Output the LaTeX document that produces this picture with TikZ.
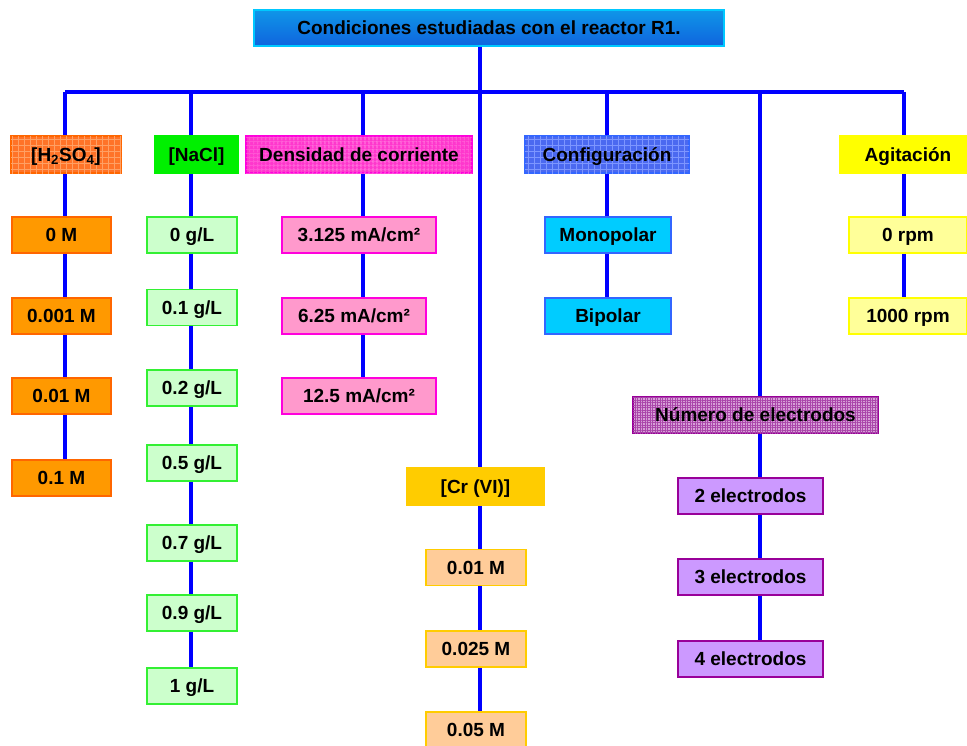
\documentclass[tikz,border=0pt]{standalone}
\usepackage{fontspec}
\setmainfont{Liberation Sans}
\usetikzlibrary{backgrounds,patterns.meta}

\definecolor{linkblue}{RGB}{0,0,255}
\definecolor{titletop}{RGB}{15,150,232}
\definecolor{titlemid}{RGB}{40,225,160}
\definecolor{titlebot}{RGB}{15,100,222}
\definecolor{titleedge}{RGB}{0,200,255}
\definecolor{acidfill}{RGB}{255,115,40}
\definecolor{acidgrid}{RGB}{255,160,100}
\definecolor{acidedge}{RGB}{255,102,0}
\definecolor{acidval}{RGB}{255,153,0}
\definecolor{saltfill}{RGB}{0,240,0}
\definecolor{saltval}{RGB}{204,255,204}
\definecolor{saltedge}{RGB}{51,240,51}
\definecolor{densfill}{RGB}{255,55,205}
\definecolor{densgrid}{RGB}{255,95,215}
\definecolor{densval}{RGB}{255,153,204}
\definecolor{densedge}{RGB}{255,0,220}
\definecolor{confill}{RGB}{75,105,240}
\definecolor{congrid}{RGB}{125,150,255}
\definecolor{conval}{RGB}{0,204,255}
\definecolor{conedge}{RGB}{51,102,255}
\definecolor{agifill}{RGB}{255,255,0}
\definecolor{agival}{RGB}{255,255,153}
\definecolor{agiedge}{RGB}{255,255,0}
\definecolor{crfill}{RGB}{255,204,0}
\definecolor{crval}{RGB}{255,204,153}
\definecolor{electfill}{RGB}{215,160,215}
\definecolor{electgrid}{RGB}{170,70,170}
\definecolor{electval}{RGB}{204,153,255}
\definecolor{electedge}{RGB}{153,0,153}

\begin{document}
\begin{tikzpicture}[x=1pt,y=-1pt,
    box/.style={draw,line width=1.2pt,inner sep=0pt,minimum height=36pt,
      text height=13.6pt,text depth=0pt,
      font=\fontsize{19}{22}\selectfont\bfseries},
    link/.style={draw=linkblue,line width=4.5pt},
    checkfill/.style n args={4}{fill=#1,
      postaction={pattern color=#2,pattern={Lines[distance=#3,angle=0,line width=#4]}},
      postaction={pattern color=#2,pattern={Lines[distance=#3,angle=90,line width=#4]}}},
    acidbox/.style={box,fill=acidval,draw=acidedge,minimum width=99pt},
    saltbox/.style={box,fill=saltval,draw=saltedge,minimum width=90pt},
    densbox/.style={box,fill=densval,draw=densedge},
    conbox/.style={box,fill=conval,draw=conedge,minimum width=126pt},
    agibox/.style={box,fill=agival,draw=agiedge,minimum width=118pt},
    crbox/.style={box,fill=crval,draw=crfill,minimum width=100pt},
    electbox/.style={box,fill=electval,draw=electedge,minimum width=145pt}]
  \useasboundingbox (0,0) rectangle (967,745);

  \node[box,shade,top color=titletop,middle color=titlemid,bottom color=titlebot,
    draw=titleedge,minimum width=470pt] (title) at (489,28) {Condiciones estudiadas con el reactor R1.};

  \coordinate (bH) at (65,92);
  \coordinate (bN) at (191,92);
  \coordinate (bD) at (363,92);
  \coordinate (bC) at (480,92);
  \coordinate (bF) at (607,92);
  \coordinate (bE) at (760,92);
  \coordinate (bA) at (904,92);

  \node[box,checkfill={acidfill}{acidgrid}{6pt}{0.7pt},draw=acidedge,minimum width=110pt,minimum height=37pt]
    (hH) at (66,154.5) {[H\textsubscript{2}SO\textsubscript{4}]};
  \node[box,fill=saltfill,draw=saltfill,minimum width=83pt,minimum height=37pt]
    (hN) at (196.5,154.5) {[NaCl]};
  \node[box,checkfill={densfill}{densgrid}{4pt}{0.4pt},draw=densedge,minimum width=226pt,minimum height=37pt]
    (hD) at (359,154.5) {Densidad de corriente};
  \node[box,checkfill={confill}{congrid}{6pt}{0.7pt},draw=conedge,minimum width=164pt,minimum height=37pt]
    (hF) at (607,154.5) {Configuración};
  \node[box,fill=agifill,draw=agifill,minimum width=136pt,minimum height=37pt]
    (hA) at (908,154.5) {Agitación};
  \node[box,fill=crfill,draw=crfill,minimum width=137pt,minimum height=37pt]
    (hC) at (475.5,486.5) {[Cr (VI)]};
  \node[box,checkfill={electfill}{electgrid}{2.5pt}{0.6pt},draw=electedge,minimum width=245pt]
    (hE) at (755.5,415) {Número de electrodos};

  \node[acidbox] (H1) at (61.5,235) {0 M};
  \node[acidbox] (H2) at (61.5,316) {0.001 M};
  \node[acidbox] (H3) at (61.5,396) {0.01 M};
  \node[acidbox] (H4) at (61.5,478) {0.1 M};

  \node[saltbox] (N1) at (192,235) {0 g/L};
  \node[saltbox] (N2) at (192,307.5) {0.1 g/L};
  \node[saltbox] (N3) at (192,388) {0.2 g/L};
  \node[saltbox] (N4) at (192,463) {0.5 g/L};
  \node[saltbox] (N5) at (192,543) {0.7 g/L};
  \node[saltbox] (N6) at (192,613) {0.9 g/L};
  \node[saltbox] (N7) at (192,686) {1 g/L};

  \node[densbox,minimum width=154pt] (D1) at (359,235) {3.125 mA/cm²};
  \node[densbox,minimum width=144pt] (D2) at (354,316) {6.25 mA/cm²};
  \node[densbox,minimum width=154pt] (D3) at (359,396) {12.5 mA/cm²};

  \node[conbox] (F1) at (608,235) {Monopolar};
  \node[conbox] (F2) at (608,316) {Bipolar};

  \node[agibox] (A1) at (908,235) {0 rpm};
  \node[agibox] (A2) at (908,316) {1000 rpm};

  \node[crbox] (C1) at (476,567.5) {0.01 M};
  \node[crbox] (C2) at (476,649) {0.025 M};
  \node[crbox] (C3) at (476,730) {0.05 M};

  \node[electbox] (E1) at (750.5,496) {2 electrodos};
  \node[electbox] (E2) at (750.5,577) {3 electrodos};
  \node[electbox] (E3) at (750.5,659) {4 electrodos};

  \begin{scope}[on background layer]
    \draw[link] (title.south -| bC) -- (bC);
    \draw[link] (bH) -- (bA);
    \foreach \col/\first in {bH/hH,bN/hN,bD/hD,bC/hC,bF/hF,bE/hE,bA/hA}
      \draw[link] (\col) -- (\first.north -| \col);
    \foreach \col/\a/\b in {bH/hH/H1,bH/H1/H2,bH/H2/H3,bH/H3/H4,
        bN/hN/N1,bN/N1/N2,bN/N2/N3,bN/N3/N4,bN/N4/N5,bN/N5/N6,bN/N6/N7,
        bD/hD/D1,bD/D1/D2,bD/D2/D3,bF/hF/F1,bF/F1/F2,bA/hA/A1,bA/A1/A2,
        bC/hC/C1,bC/C1/C2,bC/C2/C3,bE/hE/E1,bE/E1/E2,bE/E2/E3}
      \draw[link] (\a.south -| \col) -- (\b.north -| \col);
  \end{scope}
\end{tikzpicture}
\end{document}
